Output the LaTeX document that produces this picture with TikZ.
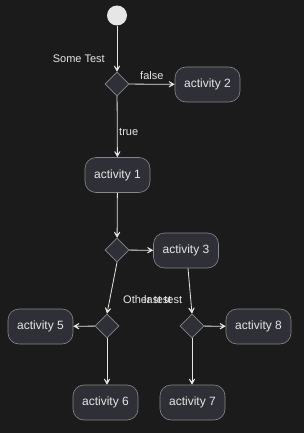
\documentclass[tikz,border=0pt]{standalone}
\usepackage{fontspec}
\setmainfont{Liberation Sans}
\usetikzlibrary{shapes.geometric,arrows.meta}
\definecolor{bg}{RGB}{27,27,27}
\definecolor{boxfill}{RGB}{47,47,55}
\definecolor{boxline}{RGB}{135,135,140}
\definecolor{fg}{RGB}{230,230,230}
\begin{document}
\begin{tikzpicture}[x=1pt,y=-1pt,
  act/.style={draw=boxline,fill=boxfill,rounded corners=11pt,minimum width=65pt,minimum height=35pt,inner sep=0pt,text=fg,font=\fontsize{12}{14}\selectfont,line width=0.6pt},
  dec/.style={diamond,draw=boxline,fill=boxfill,minimum width=24pt,minimum height=24pt,inner sep=0pt,line width=0.6pt},
  lbl/.style={inner sep=0pt,text=fg,font=\fontsize{11}{13}\selectfont,anchor=base west},
  flow/.style={draw=fg,line width=0.8pt,-{Stealth[length=9pt,width=10pt,inset=6pt]}}]
\fill[bg] (0,0) rectangle (304,433);
\useasboundingbox (0,0) rectangle (304,433);
\node[circle,fill=fg,minimum size=20pt,inner sep=0pt] (start) at (117,15.5) {};
\node[dec] (d1) at (117,84) {};
\node[act] (a2) at (207.5,84.5) {activity 2};
\node[act] (a1) at (117.5,175) {activity 1};
\node[dec] (d2) at (117,250) {};
\node[act] (a3) at (186,250.5) {activity 3};
\node[dec] (d3) at (107,326) {};
\node[dec] (d4) at (192,326) {};
\node[act] (a5) at (40.5,326.5) {activity 5};
\node[act] (a8) at (258.5,326.5) {activity 8};
\node[act] (a6) at (105.5,402.5) {activity 6};
\node[act] (a7) at (192.5,402.5) {activity 7};
\node[lbl,anchor=base east] (lst) at (105,63) {Some Test};
\node[lbl] (lf) at (140,80) {false};
\node[lbl] (lt) at (119,135) {true};
\node[lbl] (lo) at (123,303) {Other test};
\node[lbl] (ll) at (144,303) {last test};
\draw[flow] (start) -- (d1);
\draw[flow] (d1) -- (a2);
\draw[flow] (d1) -- (a1);
\draw[flow] (a1) -- (d2);
\draw[flow] (d2) -- (a3);
\draw[flow] (d2.south) -- (d3.north);
\draw[flow] ([xshift=2pt]a3.south) -- (d4.north);
\draw[flow] (d3) -- (a5);
\draw[flow] (d3) -- (d3 |- a6.north);
\draw[flow] (d4) -- (a8);
\draw[flow] (d4) -- (d4 |- a7.north);
\end{tikzpicture}
\end{document}
